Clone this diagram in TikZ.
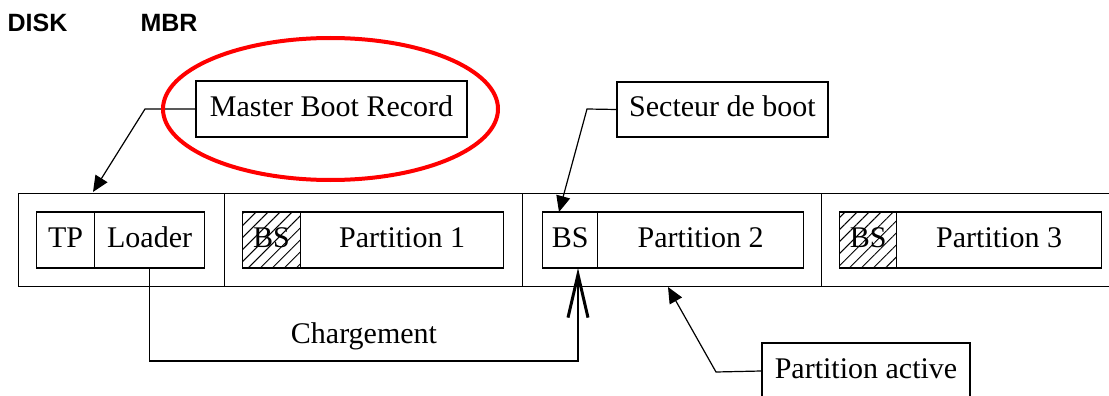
\documentclass[tikz,border=0pt]{standalone}
\usepackage{fontspec}
\setmainfont{Liberation Serif}
\newfontfamily\headfont{Liberation Sans}
\usetikzlibrary{arrows.meta,patterns.meta,shapes.geometric}
\begin{document}
\begin{tikzpicture}[x=1pt,y=-1pt,line width=1.2pt,
    txt/.style={font=\fontsize{30}{36}\selectfont,text height=21pt,text depth=6pt},
    box/.style={draw,inner sep=0pt,txt},
    cell/.style={box,anchor=west,minimum height=56pt},
    seg/.style={draw,inner sep=0pt,anchor=north west,minimum height=93pt},
    hatched/.style={pattern={Lines[angle=45,distance=8.5pt,line width=1pt]}},
    ptr/.style={-{Triangle[length=16pt,width=14pt]}},
    head/.style={font=\headfont\bfseries\fontsize{25}{30}\selectfont,anchor=base west,inner sep=0pt}]
  \fill[white] (0,0) rectangle (1109,396);
  \useasboundingbox (0,0) rectangle (1109,396);
  \node[head] (disk) at (7,32) {DISK};
  \node[head] (mbrlbl) at (140,32) {MBR};
  \node[seg,minimum width=206pt] (seg1) at (18,193) {};
  \node[seg,minimum width=298pt] (seg2) at (224,193) {};
  \node[seg,minimum width=299pt] (seg3) at (522,193) {};
  \node[seg,minimum width=300pt] (seg4) at (821,193) {};
  \node[cell,minimum width=58pt] (tp) at (36,240) {TP};
  \node[cell,minimum width=110pt] (loader) at (94,240) {Loader};
  \node[cell,hatched,minimum width=58pt] (bs1) at (242,240) {BS};
  \node[cell,minimum width=203pt] (p1) at (300,240) {Partition 1};
  \node[cell,minimum width=55pt] (bs2) at (542,240) {BS};
  \node[cell,minimum width=206pt] (p2) at (597,240) {Partition 2};
  \node[cell,hatched,minimum width=57pt] (bs3) at (839,240) {BS};
  \node[cell,minimum width=205pt] (p3) at (896,240) {Partition 3};
  \node[box,minimum width=271pt,minimum height=56pt] (mbr) at (331.5,109) {Master Boot Record};
  \node[box,minimum width=211pt,minimum height=55pt] (sect) at (722.5,109.5) {Secteur de boot};
  \node[box,minimum width=208pt,minimum height=56pt] (act) at (866,371) {Partition active};
  \node[txt,anchor=base,text height=,text depth=] (chg) at (364,343) {Chargement};
  \coordinate (mbrk) at (145,109);
  \coordinate (mbrtip) at (93,192);
  \coordinate (sectk) at (587,109);
  \coordinate (secttip) at (559,212);
  \coordinate (actk) at (716,372);
  \coordinate (acttip) at (668,287);
  \coordinate (chgk) at (578,361);
  \coordinate (chgtip) at (578,268);
  \draw[ptr] (mbr.west) -- (mbrk) -- (mbrtip);
  \draw[ptr] (sect.west) -- (sectk) -- (secttip);
  \draw[ptr] (act.west) -- (actk) -- (acttip);
  \draw[-{Straight Barb[length=43pt,width=20pt,line width=3pt]}] (loader.south) |- (chgk) -- (chgtip);
  \node[draw=red,line width=4pt,ellipse,minimum width=335pt,minimum height=142pt] (ring) at (330.5,109) {};
\end{tikzpicture}
\end{document}
